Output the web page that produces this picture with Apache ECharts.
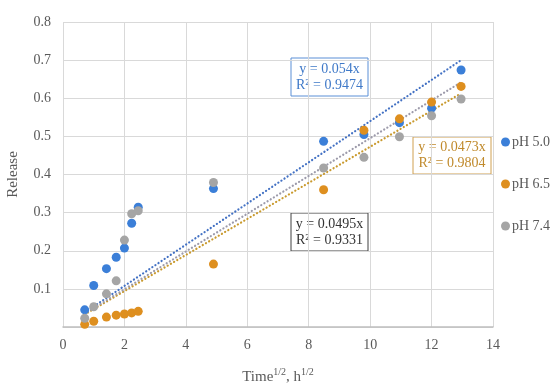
<!DOCTYPE html>
<html>
<head>
<meta charset="utf-8">
<script src="https://cdn.jsdelivr.net/npm/echarts@6/dist/echarts.min.js"></script>
<style>
html,body{margin:0;padding:0;background:#fff;}
#chart{width:550px;height:388px;}
</style>
</head>
<body>
<div id="chart"></div>
<script>
// sqrt(time) values
const timeRoot = [0.707, 1.0, 1.414, 1.732, 2.0, 2.236, 2.449, 4.899, 8.485, 9.798, 10.954, 12.0, 12.961];
const ph50 = [0.045, 0.109, 0.153, 0.183, 0.207, 0.272, 0.314, 0.363, 0.487, 0.505, 0.536, 0.574, 0.674];
const ph65 = [0.007, 0.015, 0.026, 0.031, 0.034, 0.037, 0.041, 0.165, 0.360, 0.516, 0.546, 0.590, 0.631];
const ph74 = [0.023, 0.053, 0.087, 0.121, 0.228, 0.297, 0.305, 0.379, 0.417, 0.445, 0.499, 0.554, 0.598];
const seriesNames = ['pH 5.0', 'pH 6.5', 'pH 7.4'];
// trendline endpoints (x, y)
const trend50 = [[0.707, 0.038], [12.961, 0.700]];
const trend65 = [[0.707, 0.033], [12.961, 0.613]];
const trend74 = [[0.707, 0.035], [12.961, 0.642]];
const eq50 = 'y = 0.054x\nR² = 0.9474';
const eq65 = 'y = 0.0473x\nR² = 0.9804';
const eq74 = 'y = 0.0495x\nR² = 0.9331';
const xTicks = [0, 2, 4, 6, 8, 10, 12, 14];
const yTicks = [0.1, 0.2, 0.3, 0.4, 0.5, 0.6, 0.7, 0.8];

const colors = ['#3b7fd8', '#de8f1f', '#a5a5a5'];
const trendColors = ['#4472c4', '#c99a2e', '#9d9bab'];
const FONT = '"Liberation Serif", "Times New Roman", serif';

function pairs(ys){ return timeRoot.map((x,i)=>[x, ys[i]]); }

const chart = echarts.init(document.getElementById('chart'));
const trendStyle = c => ({color: c, width: 2.2, type: [0.1, 3.6], cap: 'round'});

function box(x, y, w, h, txt, c, tc){
  return {
    type: 'group', z: 100,
    children: [
      {type: 'rect', shape: {x: x, y: y, width: w, height: h}, style: {fill: '#fff', stroke: c, lineWidth: 1}},
      {type: 'text', x: x + w/2, y: y + h/2, style: {text: txt, font: '14px ' + FONT, fill: tc, align: 'center', verticalAlign: 'middle', lineHeight: 16}}
    ]
  };
}

chart.setOption({
  animation: false,
  backgroundColor: '#fff',
  grid: {left: 63, right: 57, top: 22, bottom: 61, containLabel: false, outerBoundsMode: 'none'},
  legend: {
    orient: 'vertical', left: 496, top: 130, itemGap: 28,
    itemWidth: 9, itemHeight: 9,
    data: seriesNames.map((n,i)=>({name: n, icon: 'circle'})),
    textStyle: {fontFamily: FONT, fontSize: 14, color: '#595959', padding: [0,0,0,-3]}
  },
  xAxis: {
    type: 'value', min: 0, max: 14, interval: 2,
    axisLine: {show: true, lineStyle: {color: '#bfbfbf', width: 1.5}},
    axisTick: {show: false},
    splitLine: {show: true, lineStyle: {color: '#d9d9d9'}},
    axisLabel: {fontFamily: FONT, fontSize: 14, color: '#595959', margin: 11,
      formatter: v => xTicks.includes(v) ? String(v) : ''},
    name: '{b|Time}{s|1/2}{b|, h}{s|1/2}',
    nameLocation: 'middle', nameGap: 40,
    nameTextStyle: {rich: {
      b: {fontFamily: FONT, fontSize: 15, color: '#595959', verticalAlign: 'bottom', lineHeight: 18},
      s: {fontFamily: FONT, fontSize: 10, color: '#595959', verticalAlign: 'top', lineHeight: 18, padding: [0,0,6,0]}
    }}
  },
  yAxis: {
    type: 'value', min: 0, max: 0.8, interval: 0.1,
    axisLine: {show: false},
    axisTick: {show: false},
    splitLine: {show: true, lineStyle: {color: '#d9d9d9'}},
    axisLabel: {fontFamily: FONT, fontSize: 14, color: '#595959', margin: 12,
      formatter: v => { const t = yTicks.find(k => Math.abs(k - v) < 1e-6); return t ? t.toFixed(1) : ''; }},
    name: 'Release', nameLocation: 'middle', nameGap: 42,
    nameTextStyle: {fontFamily: FONT, fontSize: 15, color: '#595959'}
  },
  series: [
    {name: 'trend50', type: 'line', data: trend50, symbol: 'none', lineStyle: trendStyle(trendColors[0]), z: 1, silent: true},
    {name: 'trend65', type: 'line', data: trend65, symbol: 'none', lineStyle: trendStyle(trendColors[1]), z: 1, silent: true},
    {name: 'trend74', type: 'line', data: trend74, symbol: 'none', lineStyle: trendStyle(trendColors[2]), z: 1, silent: true},
    {name: seriesNames[0], type: 'scatter', data: pairs(ph50), symbolSize: 9, itemStyle: {color: colors[0], opacity: 1}, z: 3},
    {name: seriesNames[1], type: 'scatter', data: pairs(ph65), symbolSize: 9, itemStyle: {color: colors[1], opacity: 1}, z: 3},
    {name: seriesNames[2], type: 'scatter', data: pairs(ph74), symbolSize: 9, itemStyle: {color: colors[2], opacity: 1}, z: 3}
  ],
  graphic: [
    box(291, 58, 77, 38, eq50, '#5b8fd6', '#3f79c8'),
    box(291, 213, 77, 38, eq74, '#404040', '#333333'),
    box(413, 137, 78, 37, eq65, '#d0a050', '#c08a2c')
  ]
});
</script>
</body>
</html>
